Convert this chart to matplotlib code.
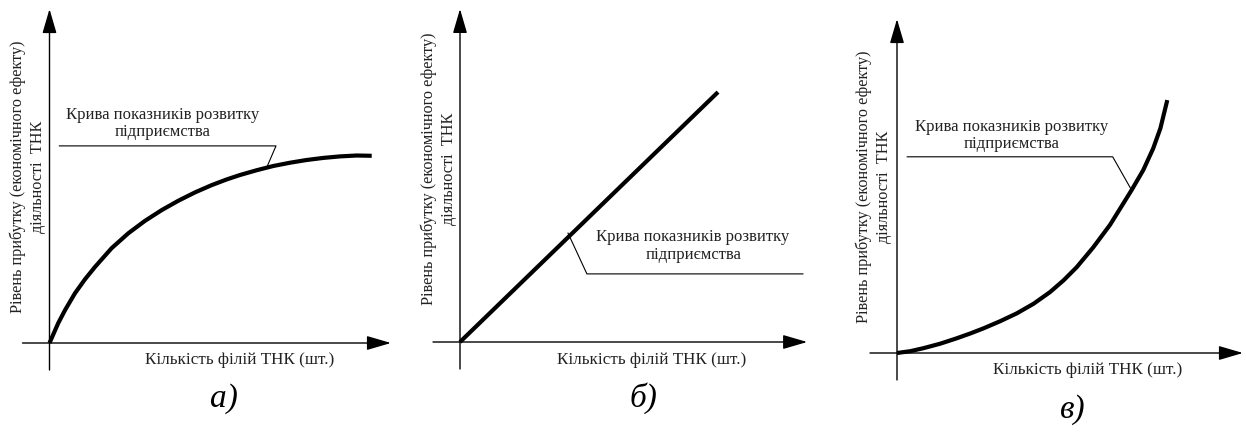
#!/usr/bin/env python3
"""Три типи кривих показників розвитку підприємства залежно від кількості філій ТНК."""

import matplotlib

matplotlib.use("Agg")
import matplotlib.pyplot as plt

plt.rcParams["font.family"] = ["Liberation Serif", "DejaVu Serif"]

# --- дані (умовні одиниці) ---
curve_a_x = [0.0, 0.29, 0.52, 0.85, 1.18, 1.52, 2.07, 2.63, 3.18, 3.74, 4.29,
             4.85, 5.40, 5.90, 6.35, 6.91, 7.46, 8.02, 8.57, 9.13, 9.68, 10.24,
             10.74]
curve_a_y = [0.0, 0.66, 1.10, 1.66, 2.12, 2.54, 3.16, 3.66, 4.07, 4.43, 4.74,
             5.02, 5.26, 5.45, 5.60, 5.76, 5.90, 6.01, 6.10, 6.17, 6.22, 6.25,
             6.24]

line_b_x = [0.0, 8.6]
line_b_y = [0.0, 8.33]

curve_c_x = [0.0, 0.44, 0.88, 1.44, 1.99, 2.44, 2.88, 3.44, 3.99, 4.55, 5.10,
             5.55, 5.99, 6.54, 7.10, 7.82, 8.21, 8.54, 8.78, 9.01]
curve_c_y = [0.0, 0.06, 0.16, 0.31, 0.49, 0.65, 0.82, 1.06, 1.32, 1.64, 2.03,
             2.42, 2.86, 3.52, 4.27, 5.43, 6.10, 6.82, 7.49, 8.43]

# виносні лінії підпису (від кривої до полички)
leader_a_x = [7.27, 7.55, 0.33]
leader_a_y = [5.92, 6.57, 6.57]
leader_b_x = [3.60, 4.23, 11.43]
leader_b_y = [3.63, 2.27, 2.27]
leader_c_x = [7.82, 7.19, 0.34]
leader_c_y = [5.43, 6.54, 6.54]

curve_label = "Крива показників розвитку\nпідприємства"
x_label = "Кількість філій ТНК (шт.)"
y_label = "Рівень прибутку (економічного ефекту)\nдіяльності  ТНК"
captions = ["а)", "б)", "в)"]

# --- розмітка ---
W, H = 1246, 432
PX = 30.0  # пікселів на одиницю

fig = plt.figure(figsize=(W / 100, H / 100), dpi=100)


def add_panel(ox, oy):
    xlim = (-1.6, 11.7)
    ylim = (-2.9, 11.4)
    left = (ox + xlim[0] * PX) / W
    bottom = (H - oy + ylim[0] * PX) / H
    ax = fig.add_axes(
        [left, bottom, (xlim[1] - xlim[0]) * PX / W, (ylim[1] - ylim[0]) * PX / H]
    )
    ax.set_xlim(*xlim)
    ax.set_ylim(*ylim)
    ax.axis("off")
    return ax


def draw_axes(ax, x_end, y_end):
    arrow = dict(
        arrowstyle="-|>,head_length=0.75,head_width=0.22",
        color="black",
        lw=1.0,
        shrinkA=0,
        shrinkB=0,
        mutation_scale=20,
    )
    ax.annotate("", xy=(x_end, 0), xytext=(-0.9, 0), arrowprops=arrow)
    ax.annotate("", xy=(0, y_end), xytext=(0, -0.9), arrowprops=arrow)


def draw_curve(ax, xs, ys, lx, ly, label_pos):
    ax.plot(xs, ys, color="black", lw=3.0, solid_capstyle="butt",
            solid_joinstyle="round")
    ax.plot(lx, ly, color="black", lw=0.8)
    ax.text(*label_pos, curve_label, ha="center", va="center", fontsize=12,
            linespacing=1.1, multialignment="center", color="#222222")


def draw_labels(ax, xl_pos, yl_pos, cap_pos, cap):
    ax.text(*xl_pos, x_label, ha="center", va="center", fontsize=12.3,
            color="#222222")
    ax.text(
        *yl_pos,
        y_label,
        ha="center",
        va="center",
        rotation=90,
        fontsize=11.7,
        linespacing=1.3,
        multialignment="center",
        color="#222222",
    )
    ax.text(*cap_pos, cap, ha="center", va="center", fontsize=24,
            style="italic")


panels = [
    (49.5, 343.0, 11.38, 11.13),
    (460.0, 342.0, 11.57, 11.10),
    (897.0, 353.0, 11.53, 11.13),
]

# а)
ax = add_panel(*panels[0][:2])
draw_axes(ax, *panels[0][2:])
draw_curve(ax, curve_a_x, curve_a_y, leader_a_x, leader_a_y, (3.78, 7.32))
draw_labels(ax, (6.35, -0.57), (-0.73, 5.53), (5.8, -1.85), captions[0])

# б)
ax = add_panel(*panels[1][:2])
draw_axes(ax, *panels[1][2:])
draw_curve(ax, line_b_x, line_b_y, leader_b_x, leader_b_y, (7.77, 3.2))
draw_labels(ax, (6.4, -0.6), (-0.7, 5.77), (6.1, -1.87), captions[1])

# в)
ax = add_panel(*panels[2][:2])
draw_axes(ax, *panels[2][2:])
draw_curve(ax, curve_c_x, curve_c_y, leader_c_x, leader_c_y, (3.83, 7.26))
draw_labels(ax, (6.37, -0.57), (-0.77, 5.55), (5.87, -1.9), captions[2])

fig.savefig("out.png", dpi=100)
